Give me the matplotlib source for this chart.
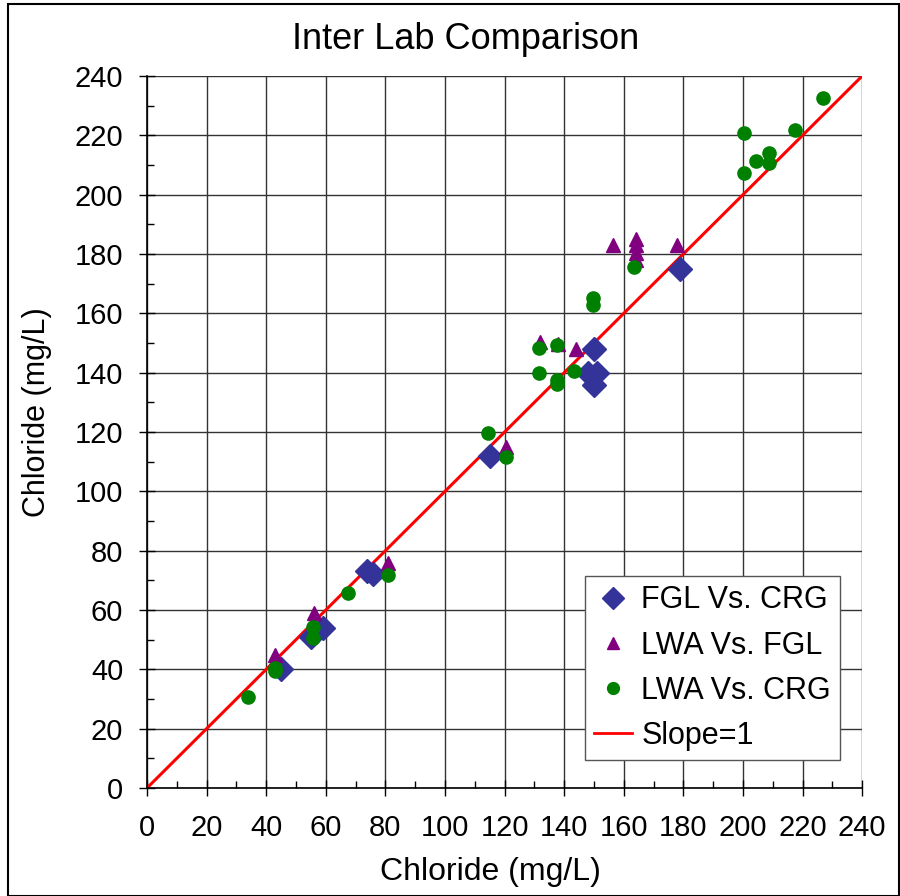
import matplotlib
matplotlib.use("Agg")
import matplotlib.pyplot as plt
from matplotlib.lines import Line2D
from matplotlib.patches import Rectangle
from matplotlib.ticker import MultipleLocator

plt.rcParams['font.family'] = ['Liberation Sans', 'DejaVu Sans']

# FGL Vs. CRG
fgl_x = [45, 55, 59, 74, 76, 115, 150, 148, 151, 150, 179]
fgl_y = [40, 51, 54, 73, 72, 112, 148, 140, 140, 136, 175]

# LWA Vs. FGL
lwa_fgl_x = [43, 56, 81, 120.5, 132, 138, 144, 156.5, 164, 164, 164, 164, 178]
lwa_fgl_y = [45, 59, 76, 115, 150.4, 149.6, 148, 183, 185.2, 183, 180.2, 178.1, 183]

# LWA Vs. CRG
lwa_crg_x = [34, 43, 43, 55.6, 55.6, 67.6, 81, 114.6, 120.4, 131.6, 137.7, 131.6,
             137.7, 137.7, 143.3, 149.6, 149.6, 163.5, 200.4, 200.4, 204.4, 208.6,
             208.6, 217.3, 226.7]
lwa_crg_y = [30.8, 40.5, 39.5, 54.3, 50.7, 65.6, 71.8, 119.5, 111.6, 148.3, 149.3, 140,
             137.5, 136.2, 140.6, 165, 162.8, 175.7, 220.9, 207.3, 211.4, 214.1,
             210.8, 221.8, 232.7]

slope_x = [0, 240]
slope_y = [0, 240]

fig = plt.figure(figsize=(9, 8.96), dpi=100)
ax = fig.add_axes([0.1633, 0.1205, 0.7947, 0.7947])

blue = '#333399'
purple = '#800080'
green = '#008000'

ax.plot(fgl_x, fgl_y, 'D', color=blue, markersize=12, zorder=3)
ax.plot(lwa_fgl_x, lwa_fgl_y, '^', color=purple, markersize=10, zorder=4)
ax.plot(lwa_crg_x, lwa_crg_y, 'o', color=green, markersize=9.5, zorder=5)
ax.plot(slope_x, slope_y, '-', color='#ff0000', lw=2.2, zorder=2)

ax.set_xlim(0, 240)
ax.set_ylim(0, 240)
ax.xaxis.set_major_locator(MultipleLocator(20))
ax.yaxis.set_major_locator(MultipleLocator(20))
ax.xaxis.set_minor_locator(MultipleLocator(10))
ax.yaxis.set_minor_locator(MultipleLocator(10))
ax.grid(True, which='major', color='#333333', lw=1)
ax.set_axisbelow(True)
ax.tick_params(which='major', direction='inout', length=11, width=1, labelsize=21)
ax.tick_params(axis='x', which='major', pad=13.5)
ax.tick_params(axis='y', which='major', pad=11.5)
ax.tick_params(which='minor', direction='in', length=5, width=1)
for s in ['top', 'right']:
    ax.spines[s].set_visible(False)
for s in ['left', 'bottom']:
    ax.spines[s].set_color('black')
    ax.spines[s].set_linewidth(1.2)

fig.text(466 / 900, 1 - 49 / 896, 'Inter Lab Comparison', fontsize=26,
         ha='center', va='baseline')
fig.text(490 / 900, 1 - 880 / 896, 'Chloride (mg/L)', fontsize=23,
         ha='center', va='baseline')
fig.text(37 / 900, 1 - 412 / 896, 'Chloride (mg/L)', fontsize=22, rotation=90,
         ha='center', va='center')

handles = [
    Line2D([], [], ls='', marker='D', color=blue, markersize=11),
    Line2D([], [], ls='', marker='^', color=purple, markersize=9),
    Line2D([], [], ls='', marker='o', color=green, markersize=8.5),
    Line2D([], [], color='#ff0000', lw=2),
]
labels = ['FGL Vs. CRG', 'LWA Vs. FGL', 'LWA Vs. CRG', 'Slope=1']
leg = ax.legend(handles, labels, loc='lower right', bbox_to_anchor=(0.969, 0.039),
                borderaxespad=0, fontsize=22, frameon=True, fancybox=False,
                edgecolor='#555555', framealpha=1, handlelength=1.25,
                handletextpad=0.3, borderpad=0.3, labelspacing=0.5)
leg.get_frame().set_linewidth(1)

fig.patches.append(Rectangle((0.009, 0.0), 0.99, 0.996, transform=fig.transFigure,
                             fill=False, edgecolor='black', lw=1.5))

fig.savefig('out.png', dpi=100)
